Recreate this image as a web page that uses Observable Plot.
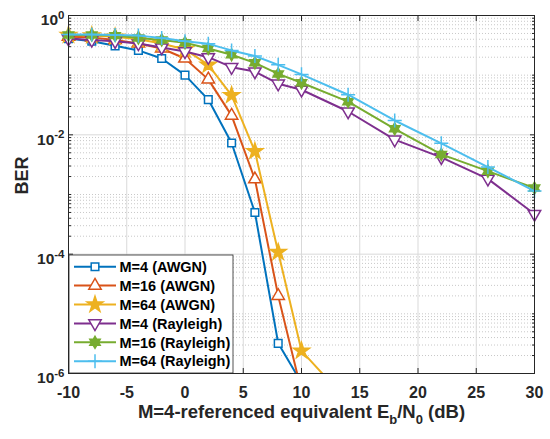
<!DOCTYPE html>
<html><head><meta charset="utf-8">
<script src="https://cdn.jsdelivr.net/npm/d3@7"></script>
<script src="https://cdn.jsdelivr.net/npm/@observablehq/plot@0.6"></script>
<style>body{margin:0;background:#fff}</style>
</head><body><div id="chart"></div>
<script>
// ---- data ----
const snrAWGN   = [-10,-8,-6,-4,-2,0,2,4,6,8,10];
const snrAWGN64 = [-10,-8,-6,-4,-2,0,2,4,6,8,10,12];
const snrRay    = [-10,-8,-6,-4,-2,0,2,4,6,8,10,14,18,22,26,30];
const berM4AWGN  = [0.41,0.37,0.31,0.26,0.19,0.10,0.039,0.0073,5.0e-4,3.2e-6,7e-7];
const berM16AWGN = [0.44,0.43,0.39,0.34,0.28,0.19,0.085,0.021,1.8e-3,2.0e-5,5e-7];
const berM64AWGN = [0.47,0.46,0.44,0.40,0.34,0.27,0.149,0.046,5.3e-3,1.08e-4,2.4e-6,9e-7];
const berM4Ray   = [0.41,0.39,0.37,0.34,0.29,0.25,0.20,0.136,0.115,0.072,0.057,0.0246,8.3e-3,4.2e-3,1.83e-3,4.7e-4];
const berM16Ray  = [0.47,0.47,0.46,0.42,0.39,0.35,0.28,0.22,0.161,0.105,0.0745,0.036,0.0126,4.7e-3,2.46e-3,1.28e-3];
const berM64Ray  = [0.48,0.48,0.47,0.46,0.42,0.37,0.335,0.26,0.21,0.149,0.103,0.047,0.0174,7.2e-3,2.88e-3,1.14e-3];
const seriesNames = ["M=4 (AWGN)","M=16 (AWGN)","M=64 (AWGN)","M=4 (Rayleigh)","M=16 (Rayleigh)","M=64 (Rayleigh)"];
const xTicks = [-10,-5,0,5,10,15,20,25,30];
const xTickLabels = ["-10","-5","0","5","10","15","20","25","30"];
const yTicks = [1,1e-2,1e-4,1e-6];
const yTickLabels = ["10^0","10^-2","10^-4","10^-6"];
const xLabel = "M=4-referenced equivalent E_b/N_0 (dB)";
const yLabel = "BER";

// ---- styling ----
const colors = ["#0072BD","#D95319","#EDB120","#7E2F8E","#77AC30","#4DBEEE"];
const hexagram = {draw(ctx, size){
  const r = Math.sqrt(size/Math.PI)*1.3, ri = r/Math.sqrt(3);
  for (let i=0;i<12;i++){const a=i*Math.PI/6-Math.PI/2, rr=i%2?ri:r; const x=rr*Math.cos(a), y=rr*Math.sin(a); i?ctx.lineTo(x,y):ctx.moveTo(x,y);} ctx.closePath();}};
const styles = [
  {symbol:"square", d3sym:d3.symbolSquare, r:4.3, fill:"white", rotate:0},
  {symbol:"triangle", d3sym:d3.symbolTriangle, r:4.6, fill:"white", rotate:0},
  {symbol:"star", d3sym:d3.symbolStar, r:5.0, fill:colors[2], rotate:0},
  {symbol:"triangle", d3sym:d3.symbolTriangle, r:4.6, fill:"white", rotate:180},
  {symbol:hexagram, d3sym:hexagram, r:4.6, fill:colors[4], rotate:0},
  {symbol:"plus", d3sym:d3.symbolPlus, r:4.6, fill:"none", rotate:0}
];
const xs = [snrAWGN, snrAWGN, snrAWGN64, snrRay, snrRay, snrRay];
const ys = [berM4AWGN, berM16AWGN, berM64AWGN, berM4Ray, berM16Ray, berM64Ray];
const tables = xs.map((xv,i)=>xv.map((x,j)=>({x, y: ys[i][j]})));

const minorY = [];
for (let k=-6;k<0;k++) for (let m=2;m<=9;m++) minorY.push(m*10**k);
for (const k of [-1,-3,-5]) minorY.push(10**k);

const font = "'Liberation Sans', Arial, Helvetica, sans-serif";
const seriesMarks = tables.flatMap((t,i)=>[
  Plot.line(t,{x:"x",y:"y",stroke:colors[i],strokeWidth:2,clip:true}),
  Plot.dot(t.filter(d=>d.y>=1e-6),{x:"x",y:"y",symbol:styles[i].symbol,r:styles[i].r,stroke:colors[i],strokeWidth:1.5,fill:styles[i].fill,rotate:styles[i].rotate})
]);

const plot = Plot.plot({
  width:550, height:439,
  marginLeft:68, marginRight:16, marginTop:15, marginBottom:66,
  style:{fontFamily:font, fontWeight:"bold", fontSize:"16px", background:"white", color:"#262626", overflow:"visible"},
  x:{domain:[-10,30]},
  y:{type:"log", domain:[1e-6,1]},
  marks:[
    Plot.ruleY(minorY,{stroke:"#c8c8c8",strokeDasharray:"1,2",strokeWidth:1}),
    Plot.ruleY(yTicks,{stroke:"#d9d9d9",strokeWidth:1}),
    Plot.ruleX(xTicks,{stroke:"#d9d9d9",strokeWidth:1}),
    Plot.axisX({anchor:"bottom",ticks:xTicks,tickSize:0,tickPadding:13,label:null,fontSize:16,fill:"#262626",
      tickFormat:(d)=>xTickLabels[xTicks.indexOf(d)]}),
    Plot.axisX({anchor:"bottom",ticks:xTicks,tickSize:-5,tickFormat:()=>"",label:null}),
    Plot.axisX({anchor:"top",ticks:xTicks,tickSize:-5,tickFormat:()=>"",label:null}),
    Plot.axisY({anchor:"left",ticks:yTicks,tickSize:0,tickPadding:4,label:null,dy:5,fontSize:15.5,
      tickFormat:(d)=>yTickLabels[yTicks.indexOf(d)]}),
    Plot.axisY({anchor:"left",ticks:yTicks,tickSize:-5,tickFormat:()=>"",label:null}),
    Plot.axisY({anchor:"right",ticks:yTicks,tickSize:-5,tickFormat:()=>"",label:null}),
    Plot.axisY({anchor:"left",ticks:minorY,tickSize:-3,tickFormat:()=>"",label:null}),
    Plot.axisY({anchor:"right",ticks:minorY,tickSize:-3,tickFormat:()=>"",label:null}),
    ...seriesMarks,
    Plot.frame({stroke:"#262626",strokeWidth:1}),
    Plot.text([yLabel],{frameAnchor:"left",rotate:-90,dx:-46,text:d=>d,fontSize:18,fontWeight:"bold",fill:"#262626"}),
    Plot.text([xLabel],{frameAnchor:"bottom",dy:39,text:d=>d,fontSize:18.5,fontWeight:"bold",fill:"#262626",lineAnchor:"middle"})
  ]
});
document.getElementById("chart").appendChild(plot);

// superscripts / subscripts as tspans
const svg = d3.select(plot);
svg.selectAll("text").each(function(){
  const el = d3.select(this);
  const t = this.textContent;
  if (/^10\^/.test(t)) {
    const [b,e] = t.split("^");
    el.text("");
    el.append("tspan").text(b);
    el.append("tspan").attr("dy","-0.55em").attr("font-size","11.5px").text(e);
  } else if (t === xLabel) {
    el.text("");
    const parts = [["M=4-referenced equivalent E",0,null],["b",6,"13px"],["/N",-6,null],["0",6,"13px"],[" (dB)",-6,null]];
    for (const [s,dy,fs] of parts) { const ts = el.append("tspan").text(s); if (dy) ts.attr("dy",dy); if (fs) ts.attr("font-size",fs); }
  }
});

// legend
const lg = svg.append("g").attr("font-family",font).attr("font-weight","bold").attr("font-size","14.5px").attr("text-anchor","start");
lg.append("rect").attr("x",69).attr("y",255).attr("width",164).attr("height",118).attr("fill","white").attr("stroke","#262626").attr("stroke-width",0.8);
seriesNames.forEach((name,i)=>{
  const y = 266.7 + i*18.9;
  lg.append("line").attr("x1",74).attr("x2",116).attr("y1",y).attr("y2",y).attr("stroke",colors[i]).attr("stroke-width",2);
  const st = styles[i];
  lg.append("path").attr("d",d3.symbol(st.d3sym, Math.PI*st.r*st.r)())
    .attr("transform",`translate(95,${y}) rotate(${st.rotate})`)
    .attr("fill",st.fill).attr("stroke",colors[i]).attr("stroke-width",1.5);
  lg.append("text").attr("x",119.5).attr("y",y).attr("dy","0.36em").attr("fill","#000").text(name);
});
</script></body></html>
